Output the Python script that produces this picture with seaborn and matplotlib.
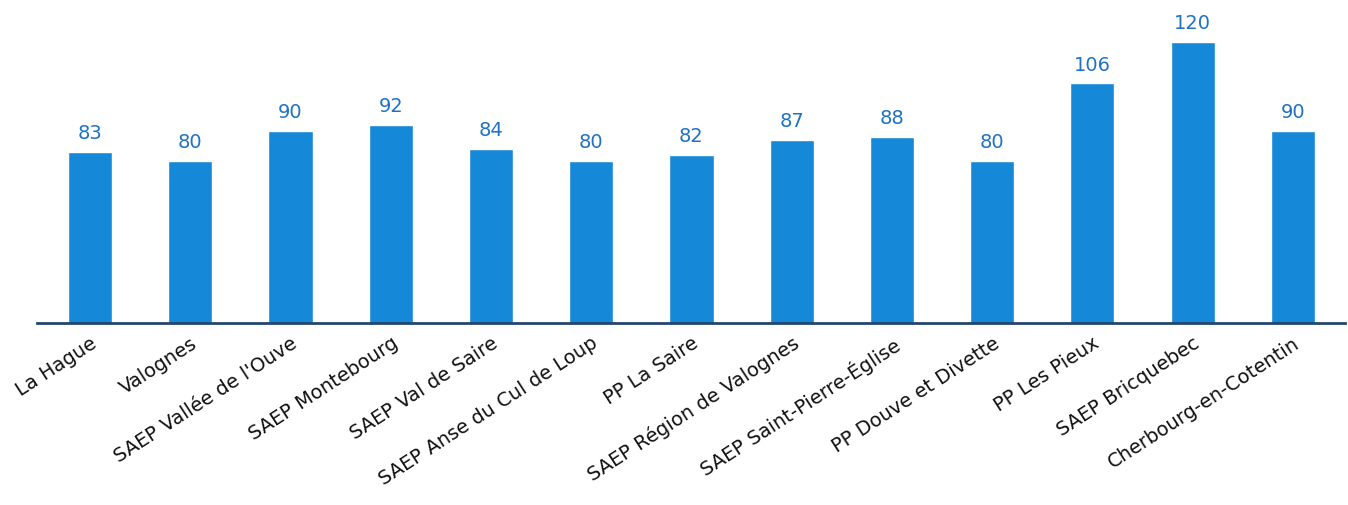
"""
Bar chart of values per water service area (Cotentin).
"""

import matplotlib
matplotlib.use("Agg")
import matplotlib.pyplot as plt
import pandas as pd
import seaborn as sns

# Data
areas = [
    "La Hague",
    "Valognes",
    "SAEP Vallée de l'Ouve",
    "SAEP Montebourg",
    "SAEP Val de Saire",
    "SAEP Anse du Cul de Loup",
    "PP La Saire",
    "SAEP Région de Valognes",
    "SAEP Saint-Pierre-Église",
    "PP Douve et Divette",
    "PP Les Pieux",
    "SAEP Bricquebec",
    "Cherbourg-en-Cotentin",
]
values = [83, 80, 90, 92, 84, 80, 82, 87, 88, 80, 106, 120, 90]

BAR_COLOR = "#1688d8"
LABEL_COLOR = "#1f72c4"
AXIS_COLOR = "#24466e"


def main() -> None:
    df = pd.DataFrame({"area": areas, "value": values})

    sns.set_style("white")
    plt.rcParams["font.family"] = ["DejaVu Sans"]

    fig = plt.figure(figsize=(13.48, 5.06), dpi=100)
    ax = fig.add_axes([0.0274, 0.3597, 0.9704, 0.6403])

    sns.barplot(
        data=df,
        x="area",
        y="value",
        color=BAR_COLOR,
        width=0.44,
        saturation=1,
        ax=ax,
    )

    # value labels above bars
    for patch, val in zip(ax.patches, values):
        ax.annotate(
            f"{val}",
            (patch.get_x() + patch.get_width() / 2, patch.get_height()),
            xytext=(0, 7),
            textcoords="offset points",
            ha="center",
            va="bottom",
            fontsize=14,
            color=LABEL_COLOR,
        )

    # axis does not start at zero in the original
    ax.set_ylim(25.3, 134.4)
    ax.set_xlim(-0.53, 12.52)
    ax.set_xlabel("")
    ax.set_ylabel("")
    ax.set_yticks([])

    ax.set_xticks(range(len(areas)))
    ax.set_xticklabels(
        areas,
        rotation=33,
        ha="right",
        rotation_mode="anchor",
        fontsize=14,
        color="#111111",
    )
    ax.tick_params(axis="x", length=0, pad=7)

    for side in ["top", "right", "left"]:
        ax.spines[side].set_visible(False)
    ax.spines["bottom"].set_color(AXIS_COLOR)
    ax.spines["bottom"].set_linewidth(2)

    fig.savefig("out.png", dpi=100)


if __name__ == "__main__":
    main()
